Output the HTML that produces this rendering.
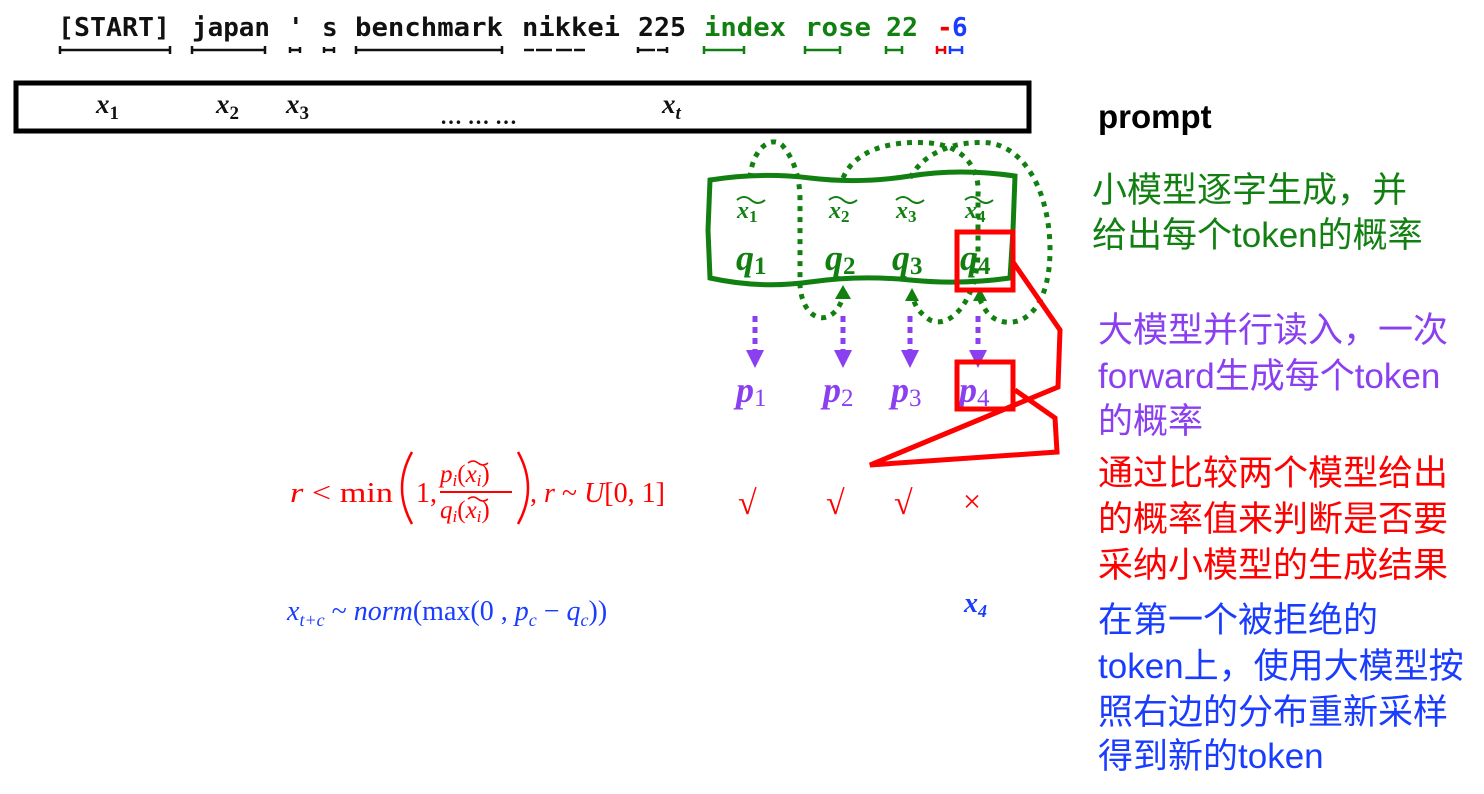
<!DOCTYPE html>
<html><head><meta charset="utf-8"><style>
body{margin:0;background:#fff;width:1484px;height:794px;overflow:hidden}
svg{display:block}
.mono{font-family:"DejaVu Sans Mono","Liberation Mono",monospace;font-weight:bold;font-size:26px}
.m{font-family:"Liberation Serif",serif}
.cn{font-family:"Liberation Sans","Noto Sans CJK SC",sans-serif;font-size:35px}
</style></head><body>
<svg width="1484" height="794" viewBox="0 0 1484 794">
<g class="mono">
<text x="58" y="36" fill="#111" textLength="112" lengthAdjust="spacingAndGlyphs">[START]</text>
<text x="192" y="36" fill="#111" textLength="78" lengthAdjust="spacingAndGlyphs">japan</text>
<text x="288" y="36" fill="#111">'</text>
<text x="322" y="36" fill="#111">s</text>
<text x="355" y="36" fill="#111" textLength="148" lengthAdjust="spacingAndGlyphs">benchmark</text>
<text x="522" y="36" fill="#111" textLength="98" lengthAdjust="spacingAndGlyphs">nikkei</text>
<text x="638" y="36" fill="#111" textLength="48" lengthAdjust="spacingAndGlyphs">225</text>
<text x="704" y="36" fill="#118011" textLength="82" lengthAdjust="spacingAndGlyphs">index</text>
<text x="805" y="36" fill="#118011" textLength="66" lengthAdjust="spacingAndGlyphs">rose</text>
<text x="886" y="36" fill="#118011" textLength="32" lengthAdjust="spacingAndGlyphs">22</text>
<text x="937" y="36" fill="#e00">-</text>
<text x="952" y="36" fill="#1a3cff">6</text>
</g>
<g stroke-width="2.5" fill="none">
<g stroke="#111">
<path d="M60 50H170M192 50H265M290 50H300M324 50H334M356 50H502M524 50H534M536 50H552M556 50H572M574 50H585M638 50H655M657 50H667"/>
<path d="M60 46v8M170 46v8M192 46v8M265 46v8M290 47v6M300 47v6M324 47v6M334 47v6M356 46v8M502 46v8M638 47v6M667 47v6"/>
</g>
<path d="M704 50H744M805 50H840M886 50H902M704 46v8M744 46v8M805 46v8M840 46v8M886 46v8M902 46v8" stroke="#118011"/>
<path d="M937 50H945M937 46v8M945 46v8" stroke="#e00"/><path d="M950 50H962M950 46v8M962 46v8" stroke="#1a3cff"/>
</g>
<rect x="16" y="83" width="1013" height="48" fill="none" stroke="#000" stroke-width="5"/>
<g class="m" font-size="27" font-style="italic" font-weight="bold" fill="#111">
<text x="96" y="113">x<tspan font-size="19" dy="6" style="font-style:normal">1</tspan></text>
<text x="216" y="113">x<tspan font-size="19" dy="6" style="font-style:normal">2</tspan></text>
<text x="286" y="113">x<tspan font-size="19" dy="6" style="font-style:normal">3</tspan></text>
<text x="662" y="113">x<tspan font-size="19" dy="6">t</tspan></text>
</g>
<text x="440" y="124" font-family="Liberation Serif" font-size="22" font-weight="bold" fill="#111">… … …</text>
<text x="1098" y="128" font-family="Liberation Sans" font-weight="bold" font-size="33">prompt</text>
<path d="M710 180 Q760 172 810 178 T910 176 T1015 176 L1013 230 L1010 278 Q960 285 910 280 T810 282 T710 278 L708 230 Z" fill="none" stroke="#118011" stroke-width="5"/>
<g class="m" fill="#118011" font-weight="bold" font-style="italic">
<g font-size="24">
<text x="737" y="218">x<tspan font-size="17" dy="4" style="font-style:normal">1</tspan></text>
<text x="829" y="218">x<tspan font-size="17" dy="4" style="font-style:normal">2</tspan></text>
<text x="896" y="218">x<tspan font-size="17" dy="4" style="font-style:normal">3</tspan></text>
<text x="965" y="218">x<tspan font-size="17" dy="4" style="font-style:normal">4</tspan></text>
</g>
<path d="M737 200q7-6 14 0t14 0M829 200q7-6 14 0t14 0M896 200q7-6 14 0t14 0M965 200q7-6 14 0t14 0" stroke="#118011" stroke-width="2" fill="none"/>
<g font-size="36">
<text x="736" y="270">q<tspan font-size="25" dy="4" style="font-style:normal">1</tspan></text>
<text x="825" y="270">q<tspan font-size="25" dy="4" style="font-style:normal">2</tspan></text>
<text x="892" y="270">q<tspan font-size="25" dy="4" style="font-style:normal">3</tspan></text>
<text x="960" y="270">q<tspan font-size="25" dy="4" style="font-style:normal">4</tspan></text>
</g>
</g>
<g fill="none" stroke="#118011" stroke-width="5" stroke-dasharray="5 6">
<path d="M750 178 C752 150 770 135 782 145 C795 160 800 180 800 200 L800 285 C802 320 830 330 842 300"/>
<path d="M843 178 C855 150 890 140 930 143 C965 146 980 170 978 195 L978 250 C978 300 950 330 930 320 C918 312 915 305 913 298"/>
<path d="M910 178 C925 150 960 140 990 143 C1030 150 1050 200 1050 250 C1050 300 1030 325 1005 322 C990 320 985 310 980 300"/>
</g>
<g fill="#118011"><path d="M843 285l-8 14h16zM912 288l-7 13 14 0zM980 288l-7 13 14 0z"/></g>
<g stroke="#8a3ff0" stroke-width="5" stroke-dasharray="6 5">
<path d="M755 316V350M843 316V350M910 316V350M978 316V345"/>
</g>
<g fill="#8a3ff0"><path d="M746 350h18l-9 18zM834 350h18l-9 18zM901 350h18l-9 18zM969 350h18l-9 18z"/></g>
<g class="m" fill="#8a3ff0" font-weight="bold" font-style="italic" font-size="36">
<text x="736" y="402">p<tspan font-size="25" dy="4" style="font-style:normal;font-weight:normal">1</tspan></text>
<text x="823" y="402">p<tspan font-size="25" dy="4" style="font-style:normal;font-weight:normal">2</tspan></text>
<text x="891" y="402">p<tspan font-size="25" dy="4" style="font-style:normal;font-weight:normal">3</tspan></text>
<text x="959" y="402">p<tspan font-size="25" dy="4" style="font-style:normal;font-weight:normal">4</tspan></text>
</g>
<g fill="none" stroke="#f00" stroke-width="5">
<rect x="957" y="232" width="56" height="58"/>
<rect x="957" y="362" width="56" height="47"/>
<path d="M1013 262 L1060 330 L1058 387 L870 465 L1057 452 L1055 418 L1015 390" stroke-linejoin="miter"/>
</g>
<g class="m" fill="#f00" font-size="28">
<text x="290" y="502" textLength="103" lengthAdjust="spacingAndGlyphs"><tspan font-style="italic">r</tspan> &lt; min</text>
<path d="M412 452 Q392 488 412 524" stroke="#f00" stroke-width="2.5" fill="none"/>
<text x="416" y="502">1,</text>
<text x="440" y="482" font-size="25"><tspan font-style="italic">p</tspan><tspan font-size="17" dy="4" font-style="italic">i</tspan><tspan dy="-4">(</tspan><tspan font-style="italic">x</tspan><tspan font-size="17" dy="4" font-style="italic">i</tspan><tspan dy="-4">)</tspan></text>
<rect x="440" y="491" width="72" height="2" fill="#f00"/>
<text x="440" y="518" font-size="25"><tspan font-style="italic">q</tspan><tspan font-size="17" dy="4" font-style="italic">i</tspan><tspan dy="-4">(</tspan><tspan font-style="italic">x</tspan><tspan font-size="17" dy="4" font-style="italic">i</tspan><tspan dy="-4">)</tspan></text>
<path d="M468 463q5-4 10 0t10 0M468 499q5-4 10 0t10 0" stroke="#f00" stroke-width="1.5" fill="none"/>
<path d="M518 452 Q538 488 518 524" stroke="#f00" stroke-width="2.5" fill="none"/>
<text x="530" y="502">, <tspan font-style="italic">r</tspan> ~ <tspan font-style="italic">U</tspan>[0, 1]</text>
<text x="738" y="514" font-size="34">√</text>
<text x="826" y="514" font-size="34">√</text>
<text x="894" y="514" font-size="34">√</text>
<text x="963" y="512" font-size="32">×</text>
</g>
<g class="m" fill="#1a3cff" font-size="28">
<text x="287" y="620"><tspan font-style="italic">x</tspan><tspan font-size="18" dy="6" font-style="italic">t+c</tspan><tspan dy="-6"> ~ </tspan><tspan font-style="italic">norm</tspan>(max(0 , <tspan font-style="italic">p</tspan><tspan font-size="18" dy="6" font-style="italic">c</tspan><tspan dy="-6"> − </tspan><tspan font-style="italic">q</tspan><tspan font-size="18" dy="6" font-style="italic">c</tspan><tspan dy="-6">))</tspan></text>
<text x="964" y="612" font-style="italic" font-weight="bold">x<tspan font-size="18" dy="5">4</tspan></text>
</g>
<g class="cn">
<g fill="#118011"><text x="1092" y="202">小模型逐字生成，并</text><text x="1092" y="247">给出每个token的概率</text></g>
<g fill="#8a3ff0"><text x="1098" y="342">大模型并行读入，一次</text><text x="1098" y="388">forward生成每个token</text><text x="1098" y="433">的概率</text></g>
<g fill="#f00"><text x="1098" y="485">通过比较两个模型给出</text><text x="1098" y="531">的概率值来判断是否要</text><text x="1098" y="577">采纳小模型的生成结果</text></g>
<g fill="#1a3cff"><text x="1098" y="632">在第一个被拒绝的</text><text x="1098" y="678">token上，使用大模型按</text><text x="1098" y="724">照右边的分布重新采样</text><text x="1098" y="768">得到新的token</text></g>
</g>
</svg>
</body></html>
